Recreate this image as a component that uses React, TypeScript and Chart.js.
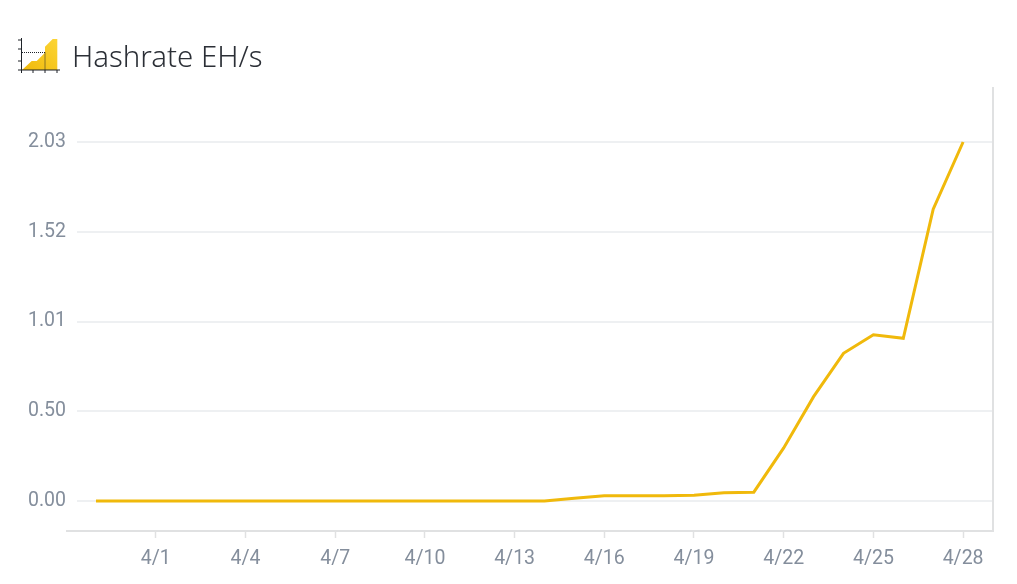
import React, { useEffect, useRef } from "react";
import { Chart, registerables } from "chart.js";

Chart.register(...registerables);

const days = ["3/30","3/31","4/1","4/2","4/3","4/4","4/5","4/6","4/7","4/8","4/9","4/10","4/11","4/12","4/13","4/14","4/15","4/16","4/17","4/18","4/19","4/20","4/21","4/22","4/23","4/24","4/25","4/26","4/27","4/28"];
const hashrate = [0,0,0,0,0,0,0,0,0,0,0,0,0,0,0,0,0.015,0.03,0.03,0.03,0.032,0.046,0.05,0.3,0.59,0.835,0.94,0.92,1.65,2.03];
const yTicks = [0, 0.5075, 1.015, 1.5225, 2.03];
const yTickLabels = ["0.00", "0.50", "1.01", "1.52", "2.03"];
const xTickEvery = 3;
const xFirstTick = 2;
const title = "Hashrate EH/s";

const AXIS = "#E0E1E2";
const GRID = "#EEF0F2";
const TICK = "#848E9C";
const LINE = "#F0B90B";

const frame = {
  id: "frame",
  afterDraw(chart: any) {
    const { ctx, chartArea: a } = chart;
    ctx.save();
    ctx.strokeStyle = AXIS;
    ctx.lineWidth = 2;
    ctx.beginPath();
    ctx.moveTo(66, a.bottom);
    ctx.lineTo(a.right + 1, a.bottom);
    ctx.moveTo(a.right, a.bottom);
    ctx.lineTo(a.right, a.top);
    ctx.stroke();
    ctx.restore();
  },
};

export default function App() {
  const ref = useRef<HTMLCanvasElement>(null);
  useEffect(() => {
    const chart = new Chart(ref.current!, {
      type: "line",
      data: {
        datasets: [
          {
            data: hashrate.map((y, x) => ({ x, y })),
            borderColor: LINE,
            borderWidth: 3,
            pointRadius: 0,
            tension: 0,
            fill: false,
            clip: false,
          },
        ],
      },
      options: {
        animation: false,
        responsive: false,
        layout: { padding: { top: 87, right: 24, left: 0, bottom: 0 } },
        plugins: { legend: { display: false }, tooltip: { enabled: false }, title: { display: false } },
        scales: {
          x: {
            type: "linear",
            min: -0.635,
            max: 30,
            afterBuildTicks(scale: any) {
              const t = [];
              for (let i = xFirstTick; i < days.length; i += xTickEvery) t.push({ value: i });
              scale.ticks = t;
            },
            afterFit(scale: any) {
              scale.height = 53;
            },
            border: { display: false },
            grid: { drawOnChartArea: false, drawTicks: true, tickLength: 7, tickColor: AXIS, tickWidth: 1.5 },
            ticks: {
              autoSkip: false,
              maxRotation: 0,
              padding: 9,
              color: TICK,
              font: { family: "Roboto", size: 19.5 },
              callback: (v: any) => days[Number(v)] ?? "",
            },
          },
          y: {
            type: "linear",
            min: -0.1696,
            max: 2.341,
            afterBuildTicks(scale: any) {
              scale.ticks = yTicks.map((value) => ({ value }));
            },
            afterFit(scale: any) {
              scale.width = 77;
            },
            border: { display: false },
            grid: { color: GRID, lineWidth: 2, drawTicks: false },
            ticks: {
              padding: 11,
              color: TICK,
              font: { family: "Roboto", size: 19.5 },
              callback: (v: any) => yTickLabels[yTicks.indexOf(Number(v))] ?? "",
            },
          },
        },
      },
      plugins: [frame],
    } as any);
    return () => chart.destroy();
  }, []);

  return (
    <div style={{ position: "absolute", left: 0, top: 0, width: 1017, height: 584, background: "#fff", overflow: "hidden" }}>
      <canvas ref={ref} width={1017} height={584} style={{ display: "block", width: 1017, height: 584 }} />
      <svg width="60" height="50" viewBox="0 0 60 50" style={{ position: "absolute", left: 0, top: 30 }}>
        <defs>
          <linearGradient id="g" x1="0" y1="1" x2="1" y2="0">
            <stop offset="0" stopColor="#F0B90B" />
            <stop offset="1" stopColor="#FCD535" />
          </linearGradient>
        </defs>
        <polygon points="22,40 31.7,31 36.7,31 45,22.7 45,16.7 52.7,9 57.3,9 57.3,40" fill="url(#g)" />
        <path d="M21.5 8V43M18 40H60M18 10H21.5M18 19H21.5M18 31H21.5M33 40V43M45 40V43M57 40V43" stroke="#1E2329" strokeWidth="1" fill="none" />
        <path d="M22 22.5H45M45 22.5V40" stroke="#1E2329" strokeWidth="1" strokeDasharray="1 1" fill="none" />
      </svg>
      <div style={{ position: "absolute", left: 72, top: 37, fontFamily: "'Noto Sans'", fontSize: 29.4, fontWeight: 300, lineHeight: "38px", color: "#2B2F36", whiteSpace: "nowrap" }}>{title}</div>
    </div>
  );
}
